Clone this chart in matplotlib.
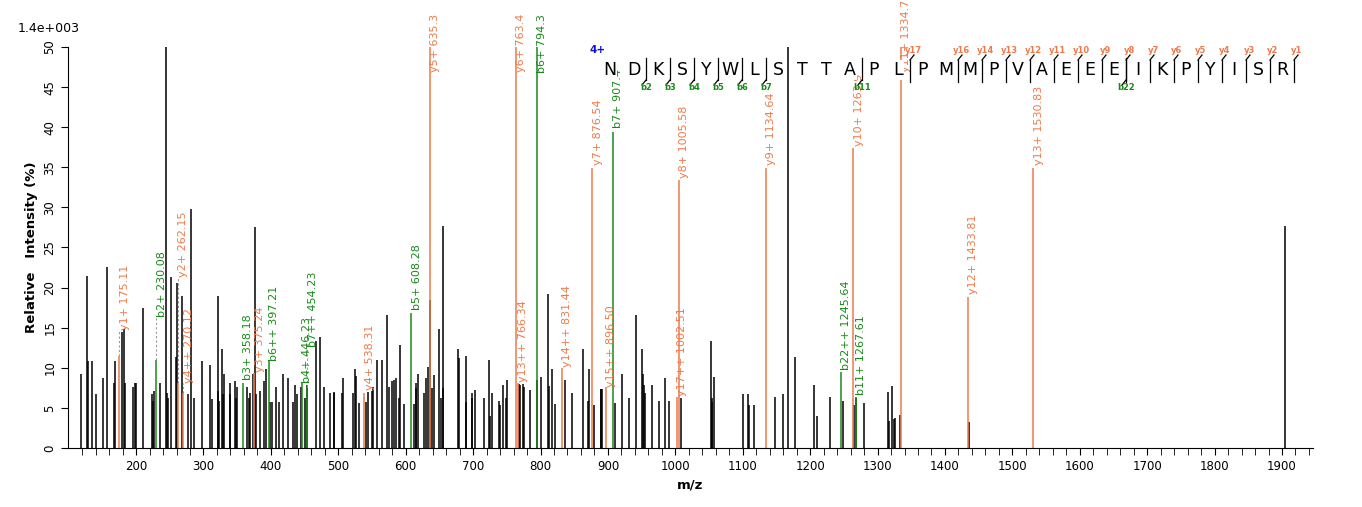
import matplotlib
matplotlib.use("Agg")
import matplotlib.pyplot as plt

# unassigned peaks (m/z, relative intensity %)
peak_mz = [119, 127, 128, 135, 140, 151, 157, 167, 168, 179, 182, 183, 196, 198, 200, 210,
           224, 225, 226, 235, 244, 246, 247, 252, 259, 260, 268, 277, 281, 286, 298, 310,
           313, 321, 322, 323, 327, 329, 330, 339, 340, 347, 348, 349, 365, 368, 369, 373,
           376, 378, 384, 390, 393, 398, 402, 408, 412, 418, 426, 433, 436, 439, 445, 451,
           454, 467, 473, 479, 488, 493, 494, 506, 507, 522, 525, 526, 531, 541, 544, 550,
           551, 557, 565, 572, 575, 580, 583, 585, 590, 591, 597, 612, 615, 616, 618, 627,
           630, 633, 636, 639, 642, 650, 652, 655, 656, 678, 679, 689, 690, 698, 699, 703,
           716, 724, 725, 728, 739, 740, 745, 749, 750, 768, 769, 774, 775, 785, 795, 801,
           811, 812, 817, 822, 837, 847, 863, 871, 872, 879, 889, 890, 891, 910, 921, 931,
           942, 951, 952, 954, 955, 966, 976, 985, 991, 1008, 1053, 1054, 1055, 1058, 1100,
           1108, 1109, 1117, 1148, 1159, 1167, 1177, 1206, 1210, 1230, 1249, 1265, 1268,
           1280, 1316, 1317, 1322, 1325, 1326, 1334, 1435, 1904]
peak_int = [9.2, 21.5, 10.8, 10.8, 6.7, 8.7, 22.6, 8.1, 10.8, 14.5, 14.8, 8.1, 7.6, 8.1, 8.1, 17.4,
            6.7, 5.8, 7.1, 8.1, 50, 6.8, 6.2, 21.3, 11.4, 20.6, 19.0, 6.7, 29.8, 6.2, 10.8, 10.3,
            6.1, 19.0, 7.1, 5.8, 12.3, 6.7, 9.2, 6.7, 8.1, 8.4, 6.2, 7.6, 7.6, 6.2, 6.8, 9.2,
            27.5, 6.7, 7.1, 8.4, 9.8, 5.7, 5.7, 7.6, 5.7, 9.2, 8.7, 5.7, 7.9, 6.7, 7.6, 6.2,
            7.9, 13.3, 13.8, 7.6, 6.8, 7.0, 6.8, 6.8, 8.7, 6.8, 9.8, 9.0, 5.6, 5.7, 7.0, 7.1,
            7.6, 11.0, 11.0, 16.6, 7.6, 8.3, 8.5, 8.7, 6.2, 12.8, 5.5, 5.5, 7.5, 8.1, 9.2, 6.8,
            8.7, 10.1, 18.5, 7.5, 9.1, 14.8, 6.2, 27.7, 7.5, 12.4, 11.2, 5.7, 11.5, 6.2, 6.8, 7.2,
            6.2, 11.0, 4.0, 6.8, 5.9, 5.4, 7.8, 6.2, 8.5, 8.0, 7.8, 8.0, 7.6, 7.2, 8.5, 8.9,
            19.2, 7.7, 9.8, 5.5, 8.5, 6.9, 12.3, 5.9, 9.8, 5.4, 7.3, 7.3, 7.3, 5.6, 9.2, 6.2,
            16.6, 12.3, 9.2, 7.8, 6.8, 7.8, 5.8, 8.7, 5.8, 6.2, 13.3, 5.7, 6.2, 8.9, 6.7,
            6.7, 5.4, 5.4, 6.3, 6.7, 50, 11.3, 7.8, 4.0, 6.3, 5.9, 5.4, 6.2,
            5.6, 7.0, 3.4, 7.7, 3.6, 3.7, 4.1, 3.3, 27.7]

# assigned fragment ions
ion_labels = ["y1+ 175.11", "b2+ 230.08", "y2+ 262.15", "y4++ 270.12", "b3+ 358.18",
              "y3+ 375.24", "b6++ 397.21", "b4+ 446.23", "b7++ 454.23", "y4+ 538.31",
              "b5+ 608.28", "y5+ 635.3", "y6+ 763.4", "y13++ 766.34", "b6+ 794.3",
              "y14++ 831.44", "y7+ 876.54", "y15++ 896.50", "b7+ 907.4", "y17++ 1002.51",
              "y8+ 1005.58", "y9+ 1134.64", "b22++ 1245.64", "y10+ 1263.9", "b11+ 1267.61",
              "y11+ 1334.7", "y12+ 1433.81", "y13+ 1530.83"]
ion_mz = [175.11, 230.08, 262.15, 270.12, 358.18, 375.24, 397.21, 446.23, 454.23, 538.31,
          608.28, 635.3, 763.4, 766.34, 794.3, 831.44, 876.54, 896.50, 907.4, 1002.51,
          1005.58, 1134.64, 1245.64, 1263.9, 1267.61, 1334.7, 1433.81, 1530.83]
ion_int = [11.5, 11.0, 8.1, 6.8, 8.1, 9.3, 10.8, 8.1, 7.6, 6.8, 16.8, 50, 50, 8.1, 50,
           10.0, 34.9, 7.6, 39.4, 6.4, 33.4, 34.9, 9.5, 37.4, 6.4, 50, 18.8, 34.9]
ion_label_y = [14.7, 16.3, 21.3, 8.1, 8.5, 9.5, 10.9, 8.1, 12.6, 7.2, 17.2, 46.9, 46.9, 8.2,
               46.8, 10.1, 35.3, 7.6, 39.9, 6.5, 33.7, 35.3, 9.7, 37.7, 6.6, 46.9, 19.2, 35.3]

sequence = "NDKSYWLSTTAPLPMMPVAEEEIKPYISR"
b_marks = [(2, "b2"), (3, "b3"), (4, "b4"), (5, "b5"), (6, "b6"), (7, "b7"), (11, "b11"), (22, "b22")]
y_marks = [(12, "y17"), (14, "y16"), (15, "y14"), (16, "y13"), (17, "y12"), (18, "y11"),
           (19, "y10"), (20, "y9"), (21, "y8"), (22, "y7"), (23, "y6"), (24, "y5"),
           (25, "y4"), (26, "y3"), (27, "y2"), (28, "y1")]

ORANGE = "#EE7A4A"
GREEN = "#178A17"
W, H = 1362, 507

fig = plt.figure(figsize=(W / 100, H / 100), dpi=100)
ax = fig.add_axes([68 / W, 1 - 448 / H, (1313 - 68) / W, (448 - 47) / H])

ax.vlines(peak_mz, 0, peak_int, color="black", linewidth=1.1)
for lab, mz, h, ly in zip(ion_labels, ion_mz, ion_int, ion_label_y):
    color = GREEN if lab.startswith("b") else ORANGE
    ax.vlines(mz, 0, h, color=color, linewidth=1.1)
    if ly - h > 1:
        ax.plot([mz, mz], [h, ly], color="#999999", linestyle=(0, (2, 2)), linewidth=0.8)
    ax.text(mz + 8, ly, lab, rotation=90, ha="center", va="bottom", color=color,
            fontsize=8, clip_on=False)

ax.set_xlim(99, 1946)
ax.set_ylim(0, 50)
ax.set_xticks(range(200, 2000, 100))
ax.set_xticks(range(120, 1946, 20), minor=True)
ax.tick_params(axis="x", which="both", length=5, labelsize=8.5)
ax.set_yticks(range(0, 51, 5))
ax.tick_params(axis="y", length=5, labelsize=8.5)
for t in ax.get_yticklabels():
    t.set_rotation(90)
    t.set_va("center")
for s in ("top", "right"):
    ax.spines[s].set_visible(False)
ax.set_xlabel("m/z", fontweight="bold", fontsize=9.5)
ax.set_ylabel("Relative   Intensity (%)", fontweight="bold", fontsize=9.5)
fig.text(18 / W, 1 - 28 / H, "1.4e+003", fontsize=9, va="center")

# peptide sequence banner
x0, dx, yc = 610, 24.0, 70


def fx(px):
    return px / W


def fy(py):
    return 1 - py / H


fig.text(fx(590), fy(50), "4+", color="#1010DD", fontsize=7.5, fontweight="bold", va="center")
for i, aa in enumerate(sequence):
    fig.text(fx(x0 + i * dx), fy(yc), aa, fontsize=12.5, ha="center", va="center",
             bbox=dict(facecolor="white", edgecolor="none", pad=0.5))
for idx, lab in b_marks:
    bx = x0 + (idx - 0.5) * dx
    fig.add_artist(plt.Line2D([fx(bx), fx(bx)], [fy(58), fy(80)], color="black", lw=0.9))
    fig.add_artist(plt.Line2D([fx(bx), fx(bx - 4)], [fy(80), fy(85)], color="black", lw=0.9))
    fig.text(fx(bx), fy(88), lab, color=GREEN, fontsize=6, fontweight="bold",
             ha="center", va="center")
for idx, lab in y_marks:
    bx = x0 + (idx + 0.5) * dx
    fig.add_artist(plt.Line2D([fx(bx), fx(bx)], [fy(60), fy(82)], color="black", lw=0.9))
    fig.add_artist(plt.Line2D([fx(bx), fx(bx + 4)], [fy(60), fy(55)], color="black", lw=0.9))
    fig.text(fx(bx + 3), fy(50), lab, color=ORANGE, fontsize=6, fontweight="bold",
             ha="center", va="center")

fig.savefig("out.png", dpi=100)
